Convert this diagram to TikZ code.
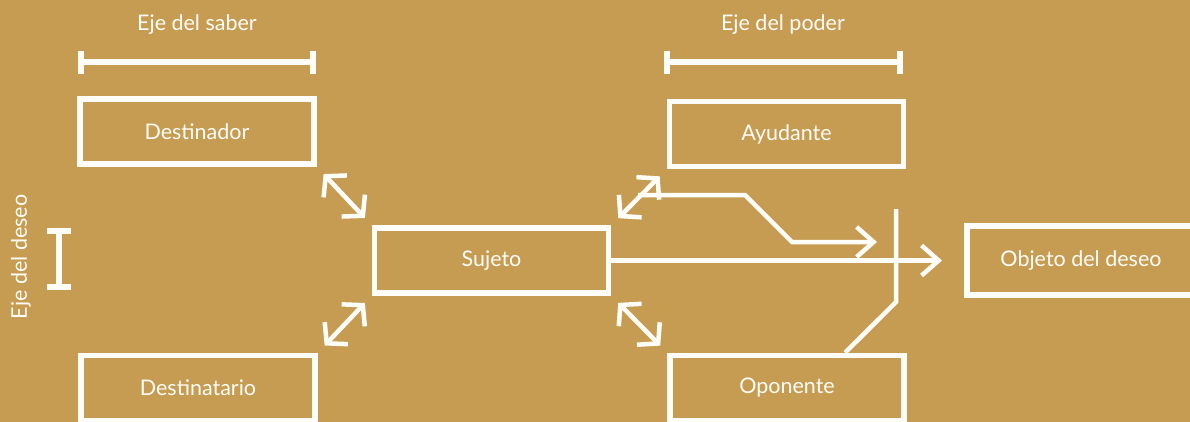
\documentclass[tikz,border=0pt]{standalone}
\usepackage{fontspec}
\setmainfont{Lato}
\usetikzlibrary{arrows.meta}
\definecolor{bg}{HTML}{C69C52}
\definecolor{fg}{HTML}{FFFDF8}
\tikzset{
  box/.style={draw=fg, line width=5.5pt, minimum width=234pt, minimum height=65pt, inner sep=0pt, text=fg, font=\fontsize{21.5}{24}\selectfont},
  lbl/.style={text=fg, inner sep=0pt, font=\fontsize{21.5}{24}\selectfont},
  dbl/.style={draw=fg, line width=4.5pt, {Straight Barb[length=14pt,width=32pt]}-{Straight Barb[length=14pt,width=32pt]}, shorten <=10pt, shorten >=10pt},
  arr/.style={draw=fg, line width=4.5pt, -{Straight Barb[length=17pt,width=30pt]}},
  axis/.style={draw=fg, line width=5.5pt},
  plain/.style={draw=fg, line width=4.5pt},
}
\begin{document}
\begin{tikzpicture}[x=1pt,y=-1pt]
\fill[bg] (0,0) rectangle (1190,422);
\useasboundingbox (0,0) rectangle (1190,422);
\clip (0,0) rectangle (1190,422);

% axes
\node[lbl] (saber) at (197,25) {Eje del saber};
\draw[axis] (78,62) -- (316,62);
\draw[axis] (81,51) -- (81,74);
\draw[axis] (313,51) -- (313,74);

\node[lbl] (poder) at (783,25) {Eje del poder};
\draw[axis] (664,62) -- (903,62);
\draw[axis] (667,51) -- (667,74);
\draw[axis] (900,51) -- (900,74);

\node[lbl, rotate=90] (deseo) at (21,257) {Eje del deseo};
\draw[axis] (59,228) -- (59,290);
\draw[axis] (47,231) -- (71,231);
\draw[axis] (47,287) -- (71,287);

% boxes
\node[box] (destinador) at (197,131.5) {Destinador};
\node[box] (destinatario) at (198,388) {Destinatario};
\node[box] (sujeto) at (491.5,260.5) {Sujeto};
\node[box] (ayudante) at (786.5,134) {Ayudante};
\node[box] (oponente) at (787,388) {Oponente};
\node[box, minimum width=260pt, minimum height=69pt, anchor=west] (objeto) at (964,260.5) {};
\node[lbl] (objtxt) at (1081,260.5) {Objeto del deseo};

% double arrows
\draw[dbl] (destinador.south east) -- (sujeto.north west);
\draw[dbl] (destinatario.north east) -- (sujeto.south west);
\draw[dbl] (sujeto.north east) -- (ayudante.south west);
\draw[dbl] (sujeto.south east) -- (oponente.north west);

% main arrow
\draw[arr, shorten >=22pt] (sujeto.east) -- (objeto.west);

% helper path
\coordinate (h0) at (638,195);
\coordinate (h1) at (877,242);
\draw[arr] (h0) -- (745,195) -- (792,242) -- (h1);

% barrier
\coordinate (b0) at (896,209);
\draw[plain] (b0) -- (896,302) -- ([xshift=58pt]oponente.north);
\end{tikzpicture}
\end{document}
